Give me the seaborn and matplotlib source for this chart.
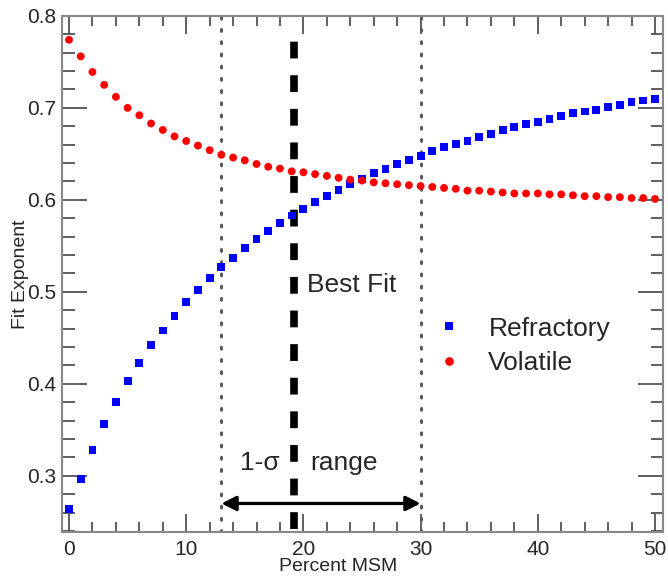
import numpy as np
import pandas as pd
import matplotlib
matplotlib.use('Agg')
import matplotlib.pyplot as plt
import seaborn as sns
from matplotlib.ticker import MultipleLocator

# data
percent_msm = list(range(0, 51))
refractory = [0.264, 0.297, 0.328, 0.356, 0.380, 0.403, 0.423, 0.442, 0.458, 0.474,
              0.489, 0.502, 0.515, 0.527, 0.537, 0.548, 0.557, 0.566, 0.575, 0.583,
              0.590, 0.598, 0.604, 0.611, 0.617, 0.623, 0.629, 0.634, 0.639, 0.643,
              0.648, 0.653, 0.657, 0.661, 0.664, 0.668, 0.672, 0.676, 0.679, 0.682,
              0.685, 0.688, 0.691, 0.694, 0.696, 0.698, 0.701, 0.703, 0.706, 0.708,
              0.710]
volatile = [0.774, 0.756, 0.739, 0.725, 0.712, 0.700, 0.692, 0.683, 0.676, 0.669,
            0.664, 0.659, 0.654, 0.649, 0.646, 0.643, 0.639, 0.636, 0.634, 0.631,
            0.630, 0.628, 0.626, 0.624, 0.622, 0.621, 0.619, 0.618, 0.617, 0.616,
            0.615, 0.614, 0.613, 0.612, 0.610, 0.610, 0.609, 0.608, 0.607, 0.607,
            0.607, 0.606, 0.606, 0.605, 0.604, 0.604, 0.603, 0.603, 0.602, 0.602,
            0.601]
x_ticks = [0, 10, 20, 30, 40, 50]
best_fit = 19.2
sigma_low = 13.0
sigma_high = 30.0

sns.set_style('ticks')
plt.rcParams['font.family'] = ['Liberation Sans', 'DejaVu Sans']

fig = plt.figure(figsize=(6.68, 5.77), dpi=100)
ax = fig.add_axes([0.0928, 0.0785, 0.9, 0.894])

df = pd.DataFrame({'Percent MSM': percent_msm + percent_msm,
                   'Fit Exponent': refractory + volatile,
                   'kind': ['Refractory'] * len(refractory) + ['Volatile'] * len(volatile)})

sns.scatterplot(data=df, x='Percent MSM', y='Fit Exponent', hue='kind', style='kind',
                palette={'Refractory': '#0000ff', 'Volatile': '#ff0000'},
                markers={'Refractory': 's', 'Volatile': 'o'},
                s=32, linewidth=0, ax=ax, zorder=3)

# 1-sigma bounds and best fit
for xv in (sigma_low, sigma_high):
    ax.axvline(xv, color='#555a60', linestyle=(0, (0.6, 3.4)), linewidth=2.2,
               dash_capstyle='round', zorder=2)
ax.plot([best_fit, best_fit], [0.2425, 0.782], color='black', linewidth=5.5,
        linestyle=(0, (2.2, 2.2)), zorder=2)

ax.annotate('', xy=(sigma_low, 0.27), xytext=(sigma_high, 0.27),
            arrowprops=dict(arrowstyle='<|-|>', color='black', lw=2.3,
                            mutation_scale=22, shrinkA=0, shrinkB=0), zorder=4)

ax.text(best_fit + 1.1, 0.508, 'Best Fit', fontsize=19, va='center', ha='left')
ax.text(18.0, 0.314, '1-\u03c3', fontsize=19, va='center', ha='right')
ax.text(20.6, 0.314, 'range', fontsize=19, va='center', ha='left')

ax.set_xticks(x_ticks)
ax.set_xticklabels([str(v) for v in x_ticks])
ax.xaxis.set_minor_locator(MultipleLocator(2))
ax.yaxis.set_major_locator(MultipleLocator(0.1))
ax.yaxis.set_minor_locator(MultipleLocator(0.02))
ax.set_xlim(-0.6, 50.7)
ax.set_ylim(0.2393, 0.8)
ax.tick_params(which='both', direction='in', top=True, right=True,
               color='#444444', labelsize=15, width=1.2)
ax.tick_params(axis='x', which='major', length=13, pad=6)
ax.tick_params(axis='x', which='minor', length=7)
ax.tick_params(axis='y', which='major', length=18, pad=4)
ax.tick_params(axis='y', which='minor', length=9)
for sp in ax.spines.values():
    sp.set_color('#888888')
    sp.set_linewidth(1.5)

ax.set_xlabel('Percent MSM', fontsize=14, labelpad=-1, x=0.46)
ax.set_ylabel('Fit Exponent', fontsize=14, labelpad=-1)

handles, labels = ax.get_legend_handles_labels()
ax.legend(handles, labels, loc='upper left', bbox_to_anchor=(0.56, 0.463), frameon=False,
          fontsize=19, handletextpad=0.5, labelspacing=0.4, markerscale=1.1)

fig.savefig('out.png', dpi=100)
